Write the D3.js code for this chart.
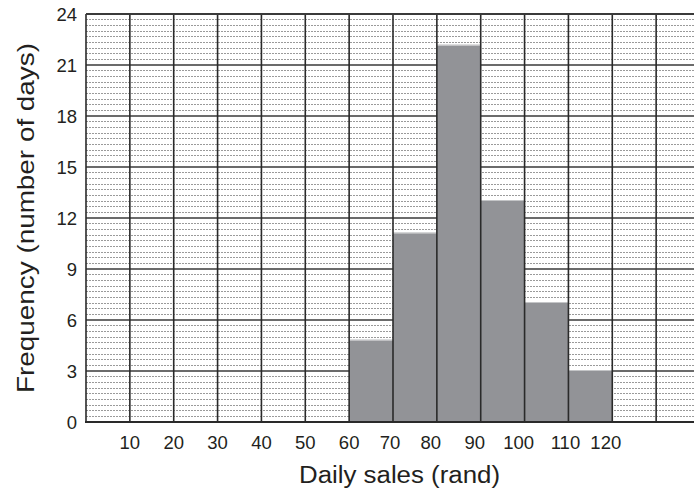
<!DOCTYPE html>
<html>
<head>
<meta charset="utf-8">
<script src="https://cdn.jsdelivr.net/npm/d3@7"></script>
<style>
  html, body { margin: 0; padding: 0; background: #fff; }
  svg { display: block; }
  text { font-family: "Liberation Sans", Arial, sans-serif; fill: #231f20; }
</style>
</head>
<body>
<script>
// Data
const binStarts = [60, 70, 80, 90, 100, 110];
const binWidth = 10;
const frequencies = [4.8, 11.1, 22.15, 13, 7, 3];
const xTickLabels = [10, 20, 30, 40, 50, 60, 70, 80, 90, 100, 110, 120];
const yTickLabels = [0, 3, 6, 9, 12, 15, 18, 21, 24];
const xTitle = "Daily sales (rand)";
const yTitle = "Frequency (number of days)";

const W = 694, H = 492;
const svg = d3.select("body").append("svg").attr("width", W).attr("height", H);

const x = d3.scaleLinear().domain([0, 140]).range([86, 700]);
const y = d3.scaleLinear().domain([0, 24]).range([422, 14]);

// minor dotted horizontal lines every 1/3 unit
const minor = d3.range(0, 24 * 3 + 1).map(i => i / 3).filter((v, i) => i % 9 !== 0);
svg.append("g").selectAll("line").data(minor).join("line")
  .attr("x1", x(0)).attr("x2", x(140))
  .attr("y1", d => y(d)).attr("y2", d => y(d))
  .attr("stroke", "#9a9a9a").attr("stroke-width", 1)
  .attr("stroke-dasharray", "2,1")
  .attr("shape-rendering", "crispEdges");

// major horizontal lines
svg.append("g").selectAll("line").data(yTickLabels.filter(d => d > 0)).join("line")
  .attr("x1", x(0)).attr("x2", x(140))
  .attr("y1", d => y(d)).attr("y2", d => y(d))
  .attr("stroke", "#3a3a3a").attr("stroke-width", 1.6);

// bars
svg.append("g").selectAll("rect").data(binStarts).join("rect")
  .attr("x", (d) => x(d))
  .attr("width", x(binWidth) - x(0))
  .attr("y", (d, i) => y(frequencies[i]))
  .attr("height", (d, i) => y(0) - y(frequencies[i]))
  .attr("fill", "#929397");
svg.append("g").selectAll("line").data(binStarts).join("line")
  .attr("x1", d => x(d)).attr("x2", d => x(d + binWidth))
  .attr("y1", (d, i) => y(frequencies[i]) - 0.5).attr("y2", (d, i) => y(frequencies[i]) - 0.5)
  .attr("stroke", "#c4c5c7").attr("stroke-width", 1);

// vertical lines
svg.append("g").selectAll("line").data(d3.range(0, 141, 10)).join("line")
  .attr("x1", d => x(d)).attr("x2", d => x(d))
  .attr("y1", y(24)).attr("y2", y(0))
  .attr("stroke", "#2a2a2a").attr("stroke-width", 1.6);

// top border
svg.append("line").attr("x1", x(0)).attr("x2", x(140))
  .attr("y1", y(24)).attr("y2", y(24))
  .attr("stroke", "#3a3a3a").attr("stroke-width", 2);
// bottom axis line
svg.append("line").attr("x1", x(0) - 1).attr("x2", x(140))
  .attr("y1", y(0)).attr("y2", y(0))
  .attr("stroke", "#2a2a2a").attr("stroke-width", 2.2);

// y tick labels
svg.append("g").selectAll("text").data(yTickLabels).join("text")
  .attr("x", 77).attr("y", d => y(d))
  .attr("dy", "0.36em")
  .attr("text-anchor", "end")
  .attr("font-size", 18.5)
  .text(d => d);

// x tick labels
svg.append("g").selectAll("text").data(xTickLabels).join("text")
  .attr("x", d => x(d) - (d >= 70 ? 3 : 0) - (d >= 80 && d <= 100 ? 3 : 0) - (d >= 120 ? 3.5 : 0))
  .attr("y", 449)
  .attr("text-anchor", "middle")
  .attr("font-size", 18.5)
  .text(d => d);

// axis titles
svg.append("text").attr("x", 399.5).attr("y", 483)
  .attr("text-anchor", "middle").attr("font-size", 23.5)
  .attr("textLength", 201).attr("lengthAdjust", "spacingAndGlyphs")
  .text(xTitle);
svg.append("text")
  .attr("transform", "translate(34,218) rotate(-90)")
  .attr("text-anchor", "middle").attr("font-size", 24.5)
  .attr("textLength", 350).attr("lengthAdjust", "spacingAndGlyphs")
  .text(yTitle);
</script>
</body>
</html>
